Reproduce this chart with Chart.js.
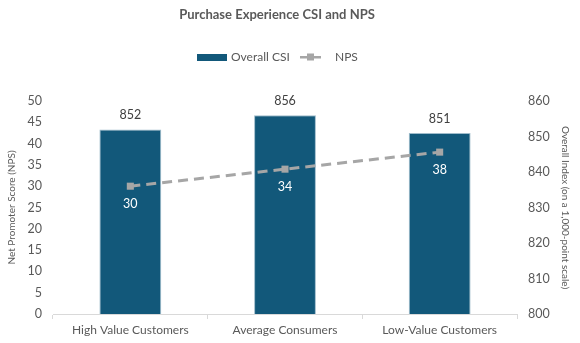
<!DOCTYPE html>
<html>
<head>
<meta charset="utf-8">
<script src="https://cdn.jsdelivr.net/npm/chart.js@4"></script>
<style>
  html, body { margin: 0; padding: 0; background: #fff; }
  #wrap { width: 580px; height: 343px; position: relative; }
</style>
</head>
<body>
<div id="wrap"><canvas id="chart"></canvas></div>
<script>
const categories = ['High Value Customers', 'Average Consumers', 'Low-Value Customers'];
const csiValues = [852, 856, 851];
const npsValues = [30, 34, 38];
const npsTicks = [0, 50, 5];
const csiTicks = [800, 860, 10];

const FONT = 'Lato, "Open Sans", sans-serif';
const BAR = '#12587a';
const LINE = '#a6a6a6';
const TEXT = '#595959';

// small legend symbols
const barSymbol = (() => {
  const c = document.createElement('canvas');
  c.width = 30; c.height = 7;
  const g = c.getContext('2d');
  g.fillStyle = BAR;
  g.fillRect(0, 0, 30, 7);
  return c;
})();
const lineSymbol = (() => {
  const c = document.createElement('canvas');
  c.width = 21; c.height = 8;
  const g = c.getContext('2d');
  g.fillStyle = LINE;
  g.fillRect(0, 3, 7, 2.5);
  g.fillRect(14, 3, 7, 2.5);
  g.fillRect(7, 0.5, 7, 7);
  return c;
})();

const headerPlugin = {
  id: 'header',
  afterDraw(chart) {
    const ctx = chart.ctx;
    ctx.save();
    ctx.fillStyle = TEXT;
    ctx.textBaseline = 'middle';
    ctx.textAlign = 'center';
    ctx.font = 'bold 13px ' + FONT;
    ctx.fillText('Purchase Experience CSI and NPS', 277, 15);

    ctx.font = '12px ' + FONT;
    ctx.textAlign = 'left';
    ctx.drawImage(barSymbol, 197, 54);
    ctx.fillText('Overall CSI', 231, 57.5);
    ctx.drawImage(lineSymbol, 300, 53);
    ctx.fillText('NPS', 335, 57.5);
    ctx.restore();
  }
};

const valueLabels = {
  id: 'valueLabels',
  afterDatasetsDraw(chart) {
    const ctx = chart.ctx;
    ctx.save();
    ctx.font = '12.5px ' + FONT;
    ctx.textAlign = 'center';
    ctx.textBaseline = 'middle';
    chart.getDatasetMeta(0).data.forEach((el, i) => {
      ctx.fillStyle = '#404040';
      ctx.fillText(String(csiValues[i]), el.x, el.y - 14);
    });
    chart.getDatasetMeta(1).data.forEach((el, i) => {
      ctx.fillStyle = '#ffffff';
      ctx.fillText(String(npsValues[i]), el.x, el.y + 18);
    });
    ctx.restore();
  }
};

new Chart(document.getElementById('chart'), {
  data: {
    labels: categories,
    datasets: [
      {
        type: 'bar',
        label: 'Overall CSI',
        data: csiValues,
        yAxisID: 'y2',
        backgroundColor: BAR,
        borderColor: '#9fbccb',
        borderWidth: 1,
        barPercentage: 0.4,
        categoryPercentage: 1,
        order: 2
      },
      {
        type: 'line',
        label: 'NPS',
        data: npsValues,
        yAxisID: 'y',
        borderColor: LINE,
        backgroundColor: LINE,
        borderWidth: 3,
        borderDash: [10, 6],
        pointStyle: 'rect',
        pointRadius: 5,
        pointBorderWidth: 0,
        tension: 0,
        order: 1
      }
    ]
  },
  options: {
    responsive: true,
    maintainAspectRatio: false,
    animation: false,
    layout: { padding: { top: 101, left: 0, right: 0, bottom: 0 } },
    plugins: {
      legend: { display: false },
      title: { display: false },
      tooltip: { enabled: false }
    },
    scales: {
      x: {
        offset: true,
        grid: { offset: true, drawOnChartArea: false, color: '#d9d9d9', tickLength: 5 },
        border: { color: '#d9d9d9' },
        ticks: { color: TEXT, font: { family: FONT, size: 12 }, padding: 4, maxRotation: 0 },
        afterFit: s => { s.height = 29; }
      },
      y: {
        position: 'left',
        min: npsTicks[0], max: npsTicks[1],
        ticks: { stepSize: npsTicks[2], color: TEXT, font: { family: FONT, size: 12.5 }, padding: 11 },
        grid: { display: false, drawTicks: false },
        border: { display: false },
        title: { display: true, text: 'Net Promoter Score (NPS)', color: TEXT, font: { family: FONT, size: 10 }, padding: { top: 6 } },
        afterFit: s => { s.width = 53; }
      },
      y2: {
        position: 'right',
        min: csiTicks[0], max: csiTicks[1],
        ticks: { stepSize: csiTicks[2], color: TEXT, font: { family: FONT, size: 12.5 }, padding: 11 },
        grid: { display: false, drawTicks: false },
        border: { display: false },
        title: { display: true, text: 'Overall Index (on a 1,000-point scale)', color: TEXT, font: { family: FONT, size: 10 }, padding: { top: 9 } },
        afterFit: s => { s.width = 63; }
      }
    }
  },
  plugins: [headerPlugin, valueLabels]
});
</script>
</body>
</html>
